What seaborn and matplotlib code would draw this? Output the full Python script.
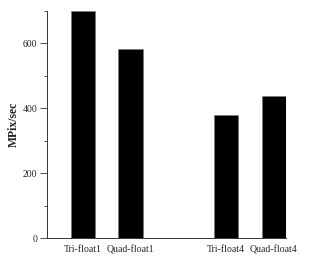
import matplotlib
matplotlib.use("Agg")
import matplotlib.pyplot as plt
import seaborn as sns
import pandas as pd
from matplotlib.ticker import MultipleLocator

categories = ["Tri-float1", "Quad-float1", "Tri-float4", "Quad-float4"]
values = [700, 584, 380, 438]
order = ["Tri-float1", "Quad-float1", " ", "Tri-float4", "Quad-float4"]

sns.set_theme(style="ticks")
plt.rcParams["font.family"] = ["Liberation Serif", "DejaVu Serif"]

df = pd.DataFrame({"cat": categories, "val": values})

fig = plt.figure(figsize=(3.2, 2.78), dpi=100)
ax = fig.add_axes([47 / 320, (278 - 238) / 278, (286 - 47) / 320, (238 - 11) / 278])
sns.barplot(data=df, x="cat", y="val", order=order, color="black",
            width=0.51, saturation=1, ax=ax, edgecolor="#777777", linewidth=0.4)

ax.set_xlim(-0.75, 4.256)
ax.set_ylim(0, 700)
ax.yaxis.set_major_locator(MultipleLocator(200))
ax.yaxis.set_minor_locator(MultipleLocator(100))
ax.tick_params(axis="y", which="major", length=5, width=0.6, labelsize=7, pad=2, color="#333333")
ax.tick_params(axis="y", which="minor", length=2.5, width=0.6, color="#333333")
ax.tick_params(axis="x", length=0, labelsize=7, pad=5)
ax.set_xlabel("")
ax.set_ylabel("MPix/sec", fontsize=8.5, fontweight="bold", labelpad=2)
for s in ["top", "right"]:
    ax.spines[s].set_visible(False)
for s in ["left", "bottom"]:
    ax.spines[s].set_linewidth(0.7)
    ax.spines[s].set_color("#333333")

fig.savefig("out.png", dpi=100)
